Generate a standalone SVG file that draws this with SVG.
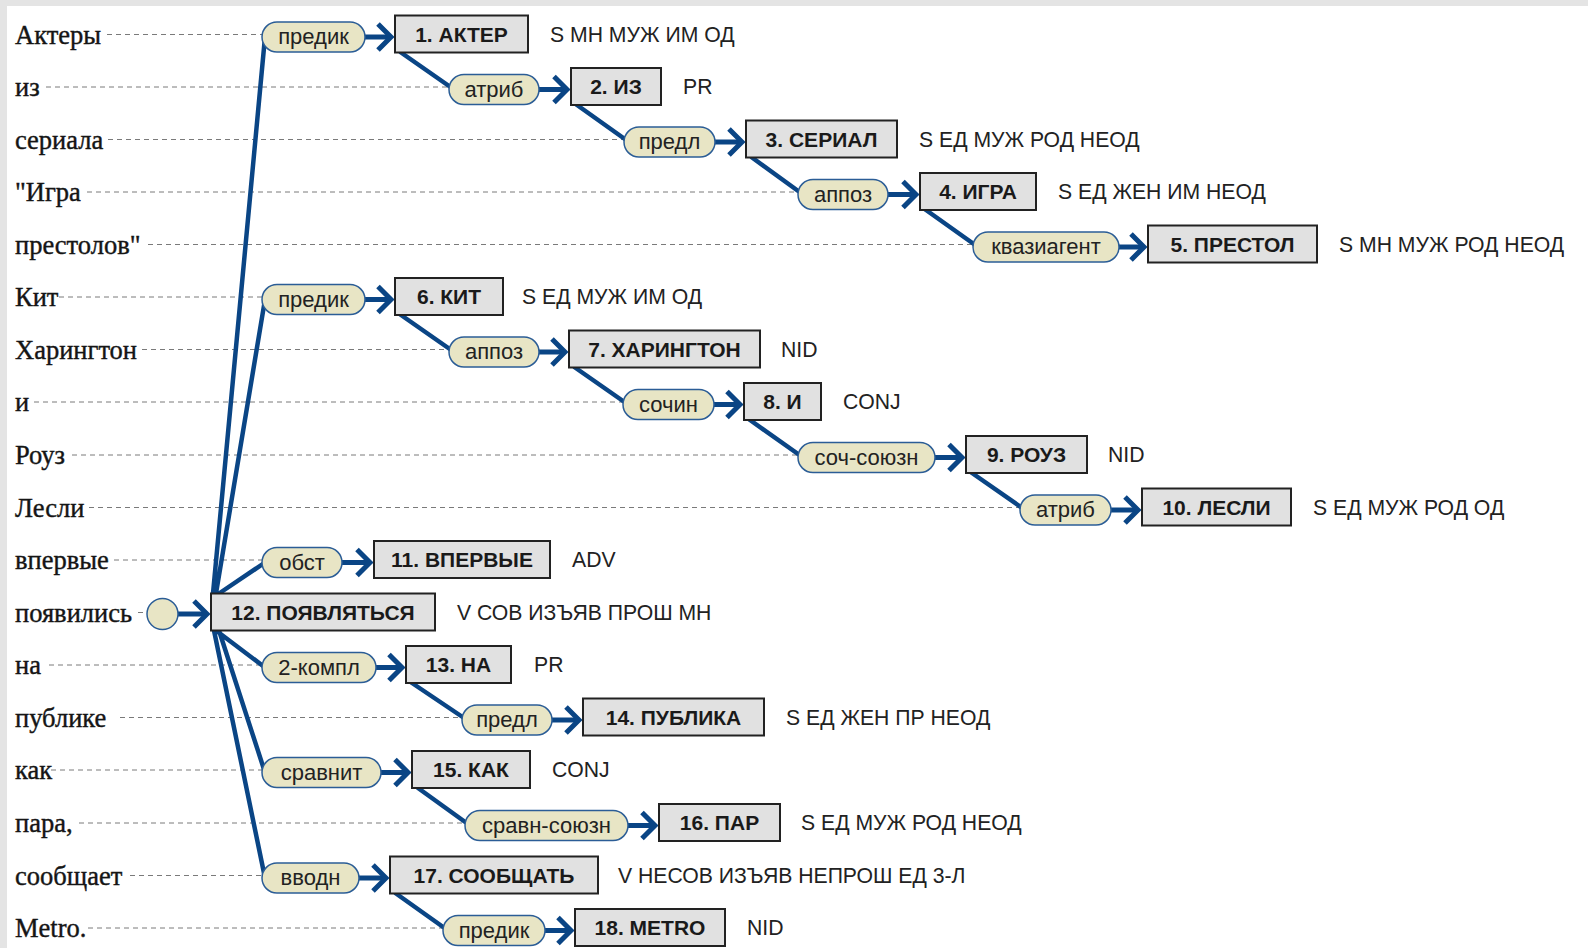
<svg xmlns="http://www.w3.org/2000/svg" width="1588" height="948" viewBox="0 0 1588 948">
<style>
.w{font-family:"Liberation Serif","Times New Roman",serif;font-size:26.5px;fill:#151515;stroke:#151515;stroke-width:0.4}
.d{stroke:#7a7a7a;stroke-width:1;stroke-dasharray:5 4;fill:none}
.c{stroke:#0a4585;stroke-width:4.5;fill:none;stroke-linecap:round}
.a{stroke:#0a4585;stroke-width:5;fill:none;marker-end:url(#ah)}
.p{fill:#e8e5c5;stroke:#2b5d96;stroke-width:1.5}
.pt{font-family:"Liberation Sans",Arial,sans-serif;font-size:22px;fill:#222;text-anchor:middle}
.b{fill:#e1e1e1;stroke:#222;stroke-width:2}
.bt{font-family:"Liberation Sans",Arial,sans-serif;font-size:21px;font-weight:bold;fill:#1a1a1a;text-anchor:middle}
.m{font-family:"Liberation Sans",Arial,sans-serif;font-size:21.2px;fill:#222}
</style>
<defs>
<marker id="ah" markerUnits="userSpaceOnUse" markerWidth="20" markerHeight="28" viewBox="0 0 20 28" refX="15" refY="14" orient="auto" style="overflow:visible">
<path d="M2,1 L15,14 L2,27" fill="none" stroke="#0a4585" stroke-width="5"/>
</marker>
</defs>
<rect x="0" y="0" width="1588" height="948" fill="#ffffff"/>
<rect x="0" y="0" width="1588" height="6" fill="#e4e4e4"/>
<rect x="0" y="0" width="7" height="948" fill="#e4e4e4"/>

<g id="words">
<text class="w" x="15" y="43.5">Актеры</text>
<text class="w" x="15" y="96">из</text>
<text class="w" x="15" y="148.5">сериала</text>
<text class="w" x="15" y="201">"Игра</text>
<text class="w" x="15" y="253.5">престолов"</text>
<text class="w" x="15" y="306">Кит</text>
<text class="w" x="15" y="358.5">Харингтон</text>
<text class="w" x="15" y="411">и</text>
<text class="w" x="15" y="464">Роуз</text>
<text class="w" x="15" y="516.5">Лесли</text>
<text class="w" x="15" y="569">впервые</text>
<text class="w" x="15" y="621.5">появились</text>
<text class="w" x="15" y="674">на</text>
<text class="w" x="15" y="726.5">публике</text>
<text class="w" x="15" y="779">как</text>
<text class="w" x="15" y="832">пара,</text>
<text class="w" x="15" y="884.5">сообщает</text>
<text class="w" x="15" y="937">Metro.</text>
</g>

<g id="guides">
<path class="d" d="M107,34.5H262M46,87H449M108,139.5H624M87,192H798M148,244.5H973M59,297H262M142,349.5H449M34,402H623M72,455H798M89,507.5H1020M114,560H262M138,612.5H147M49,665H262M120,717.5H462M51,770H262M79,823H465M130,875.5H262M88,928H443"/>
</g>

<g id="connectors">
<path class="c" d="M213,593.5L265,37M216,593.5L265,299.5M219,593.5L265,562.5M216,630.5L265,667.5M219,630.5L265,772.5M214,630.5L265,878"/>
<path class="c" d="M401,52.5L454,89.5M577,105L629,142M752,157.5L803,194.5M926,210L978,247M401,315L454,352M575,367.5L628,404.5M750,420L803,457.5M972,473L1025,510M412,683L467,720M418,788L470,825.5M396,893.5L448,930.5"/>
<path class="a" d="M365,37H391"/>
<path class="a" d="M539,89.5H567"/>
<path class="a" d="M715,142H742"/>
<path class="a" d="M888,194.5H916"/>
<path class="a" d="M1119,247H1144"/>
<path class="a" d="M365,299.5H391"/>
<path class="a" d="M539,352H565"/>
<path class="a" d="M714,404.5H740"/>
<path class="a" d="M935,457.5H962"/>
<path class="a" d="M1111,510H1138"/>
<path class="a" d="M342,562.5H370"/>
<path class="a" d="M178,614H207"/>
<path class="a" d="M376,667.5H402"/>
<path class="a" d="M552,720H579"/>
<path class="a" d="M381,772.5H408"/>
<path class="a" d="M628,825.5H655"/>
<path class="a" d="M359,878H386"/>
<path class="a" d="M545,930.5H571"/>
</g>

<g id="labels">
<g id="l1"><rect class="p" x="262" y="22" width="103" height="30" rx="15"/><text class="pt" x="313.5" y="44">предик</text></g>
<g id="l2"><rect class="p" x="449" y="74.5" width="90" height="30" rx="15"/><text class="pt" x="494" y="96.5">атриб</text></g>
<g id="l3"><rect class="p" x="624" y="127" width="91" height="30" rx="15"/><text class="pt" x="669.5" y="149">предл</text></g>
<g id="l4"><rect class="p" x="798" y="179.5" width="90" height="30" rx="15"/><text class="pt" x="843" y="201.5">аппоз</text></g>
<g id="l5"><rect class="p" x="973" y="232" width="146" height="30" rx="15"/><text class="pt" x="1046" y="254">квазиагент</text></g>
<g id="l6"><rect class="p" x="262" y="284.5" width="103" height="30" rx="15"/><text class="pt" x="313.5" y="306.5">предик</text></g>
<g id="l7"><rect class="p" x="449" y="337" width="90" height="30" rx="15"/><text class="pt" x="494" y="359">аппоз</text></g>
<g id="l8"><rect class="p" x="623" y="389.5" width="91" height="30" rx="15"/><text class="pt" x="668.5" y="411.5">сочин</text></g>
<g id="l9"><rect class="p" x="798" y="442.5" width="137" height="30" rx="15"/><text class="pt" x="866.5" y="464.5">соч-союзн</text></g>
<g id="l10"><rect class="p" x="1020" y="495" width="91" height="30" rx="15"/><text class="pt" x="1065.5" y="517">атриб</text></g>
<g id="l11"><rect class="p" x="262" y="547.5" width="80" height="30" rx="15"/><text class="pt" x="302" y="569.5">обст</text></g>
<g id="l13"><rect class="p" x="262" y="652.5" width="114" height="30" rx="15"/><text class="pt" x="319" y="674.5">2-компл</text></g>
<g id="l14"><rect class="p" x="462" y="705" width="90" height="30" rx="15"/><text class="pt" x="507" y="727">предл</text></g>
<g id="l15"><rect class="p" x="262" y="757.5" width="119" height="30" rx="15"/><text class="pt" x="321.5" y="779.5">сравнит</text></g>
<g id="l16"><rect class="p" x="465" y="810.5" width="163" height="30" rx="15"/><text class="pt" x="546.5" y="832.5">сравн-союзн</text></g>
<g id="l17"><rect class="p" x="262" y="863" width="97" height="30" rx="15"/><text class="pt" x="310.5" y="885">вводн</text></g>
<g id="l18"><rect class="p" x="443" y="915.5" width="102" height="30" rx="15"/><text class="pt" x="494" y="937.5">предик</text></g>
<g id="root"><circle class="p" cx="162.5" cy="614" r="15.5"/></g>
</g>

<g id="n1"><rect class="b" x="395" y="15.5" width="133" height="37"/><text class="bt" x="461.5" y="41.5">1. АКТЕР</text><text class="m" x="550" y="41.5">S МН МУЖ ИМ ОД</text></g>
<g id="n2"><rect class="b" x="571" y="68" width="90" height="37"/><text class="bt" x="616" y="94">2. ИЗ</text><text class="m" x="683" y="94">PR</text></g>
<g id="n3"><rect class="b" x="746" y="120.5" width="151" height="37"/><text class="bt" x="821.5" y="146.5">3. СЕРИАЛ</text><text class="m" x="919" y="146.5">S ЕД МУЖ РОД НЕОД</text></g>
<g id="n4"><rect class="b" x="920" y="173" width="116" height="37"/><text class="bt" x="978" y="199">4. ИГРА</text><text class="m" x="1058" y="199">S ЕД ЖЕН ИМ НЕОД</text></g>
<g id="n5"><rect class="b" x="1148" y="225.5" width="169" height="37"/><text class="bt" x="1232.5" y="251.5">5. ПРЕСТОЛ</text><text class="m" x="1339" y="251.5">S МН МУЖ РОД НЕОД</text></g>
<g id="n6"><rect class="b" x="395" y="278" width="108" height="37"/><text class="bt" x="449" y="304">6. КИТ</text><text class="m" x="522" y="304">S ЕД МУЖ ИМ ОД</text></g>
<g id="n7"><rect class="b" x="569" y="330.5" width="191" height="37"/><text class="bt" x="664.5" y="356.5">7. ХАРИНГТОН</text><text class="m" x="781" y="356.5">NID</text></g>
<g id="n8"><rect class="b" x="744" y="383" width="77" height="37"/><text class="bt" x="782.5" y="409">8. И</text><text class="m" x="843" y="409">CONJ</text></g>
<g id="n9"><rect class="b" x="966" y="436" width="121" height="37"/><text class="bt" x="1026.5" y="462">9. РОУЗ</text><text class="m" x="1108" y="462">NID</text></g>
<g id="n10"><rect class="b" x="1142" y="488.5" width="149" height="37"/><text class="bt" x="1216.5" y="514.5">10. ЛЕСЛИ</text><text class="m" x="1313" y="514.5">S ЕД МУЖ РОД ОД</text></g>
<g id="n11"><rect class="b" x="374" y="541" width="176" height="37"/><text class="bt" x="462" y="567">11. ВПЕРВЫЕ</text><text class="m" x="572" y="567">ADV</text></g>
<g id="n12"><rect class="b" x="211" y="593.5" width="224" height="37"/><text class="bt" x="323" y="619.5">12. ПОЯВЛЯТЬСЯ</text><text class="m" x="457" y="619.5">V СОВ ИЗЪЯВ ПРОШ МН</text></g>
<g id="n13"><rect class="b" x="406" y="646" width="105" height="37"/><text class="bt" x="458.5" y="672">13. НА</text><text class="m" x="534" y="672">PR</text></g>
<g id="n14"><rect class="b" x="583" y="698.5" width="181" height="37"/><text class="bt" x="673.5" y="724.5">14. ПУБЛИКА</text><text class="m" x="786" y="724.5">S ЕД ЖЕН ПР НЕОД</text></g>
<g id="n15"><rect class="b" x="412" y="751" width="118" height="37"/><text class="bt" x="471" y="777">15. КАК</text><text class="m" x="552" y="777">CONJ</text></g>
<g id="n16"><rect class="b" x="659" y="804" width="121" height="37"/><text class="bt" x="719.5" y="830">16. ПАР</text><text class="m" x="801" y="830">S ЕД МУЖ РОД НЕОД</text></g>
<g id="n17"><rect class="b" x="390" y="856.5" width="208" height="37"/><text class="bt" x="494" y="882.5">17. СООБЩАТЬ</text><text class="m" x="618" y="882.5">V НЕСОВ ИЗЪЯВ НЕПРОШ ЕД 3-Л</text></g>
<g id="n18"><rect class="b" x="575" y="909" width="150" height="37"/><text class="bt" x="650" y="935">18. METRO</text><text class="m" x="747" y="935">NID</text></g>
</svg>
